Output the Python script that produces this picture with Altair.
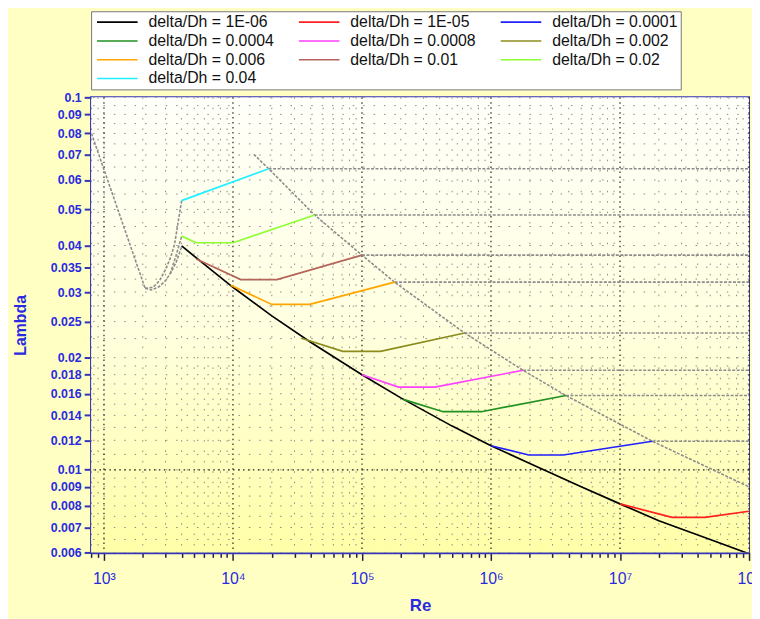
import altair as alt
import pandas as pd

# ---------------- data ----------------
series_names = ["delta/Dh = 1E-06", "delta/Dh = 1E-05", "delta/Dh = 0.0001",
                "delta/Dh = 0.0004", "delta/Dh = 0.0008", "delta/Dh = 0.002",
                "delta/Dh = 0.006", "delta/Dh = 0.01", "delta/Dh = 0.02",
                "delta/Dh = 0.04"]
series_colors = ["#000000", "#FF2020", "#2020FF", "#209020", "#FF40FF",
                 "#8C8C1E", "#FFA500", "#B4645A", "#8CFF30", "#20F0FF"]

re_1e06 = [4000, 6000, 1e4, 2e4, 4e4, 1e5, 2e5, 5e5, 1e6, 2e6, 5e6, 1e7, 2e7, 5e7, 1e8]
lam_1e06 = [0.0399, 0.0356, 0.0309, 0.0259, 0.0220, 0.0180, 0.0156, 0.0131, 0.0116,
            0.0104, 0.0090, 0.0081, 0.0073, 0.0065, 0.00595]
re_1e05 = [1e7, 2.53e7, 4.55e7, 1e8]
lam_1e05 = [0.0081, 0.00745, 0.00745, 0.00774]
re_1e04 = [1e6, 1.96e6, 3.63e6, 1.78e7]
lam_1e04 = [0.0116, 0.01096, 0.01096, 0.01193]
re_4e04 = [2.09e5, 4.25e5, 8.4e5, 3.81e6]
lam_4e04 = [0.01545, 0.01432, 0.01432, 0.01583]
re_8e04 = [1.0e5, 1.92e5, 3.67e5, 1.77e6]
lam_8e04 = [0.0180, 0.01667, 0.01667, 0.0185]
re_2e03 = [3.4e4, 7.1e4, 1.39e5, 6.24e5]
lam_2e03 = [0.02255, 0.0208, 0.0208, 0.0233]
re_6e03 = [9.6e3, 2.0e4, 3.94e4, 1.79e5]
lam_6e03 = [0.0313, 0.0278, 0.0278, 0.0319]
re_1e02 = [5.2e3, 1.15e4, 2.19e4, 1e5]
lam_1e02 = [0.0368, 0.0324, 0.0324, 0.0377]
re_2e02 = [4000, 5180, 1e4, 4.3e4]
lam_2e02 = [0.0424, 0.0407, 0.0407, 0.0483]
re_4e02 = [4000, 1.89e4]
lam_4e02 = [0.0528, 0.0643]

# grey dashed helper curves
re_laminar = [800, 2085]
lam_laminar = [0.080, 0.0307]
re_trans_a = [2085, 2400, 2700, 3000, 3300, 3530, 3750, 4000]
lam_trans_a = [0.0307, 0.0309, 0.0322, 0.0345, 0.0373, 0.0404, 0.0460, 0.0528]
re_trans_b = [2085, 2345, 2670, 3000, 3260, 3620, 4000]
lam_trans_b = [0.0307, 0.0304, 0.0310, 0.0322, 0.0336, 0.0360, 0.0397]
re_trans_c = [3260, 3620, 4000]
lam_trans_c = [0.0336, 0.0376, 0.0424]
re_limit = [1.45e4, 1.89e4, 4.3e4, 1e5, 1.79e5, 6.24e5, 1.77e6, 3.81e6, 1.78e7, 1e8]
lam_limit = [0.0703, 0.0643, 0.0483, 0.0377, 0.0319, 0.0233, 0.0185, 0.01583, 0.01193, 0.0090]
re_rough_start = [1.78e7, 3.81e6, 1.77e6, 6.24e5, 1.79e5, 1e5, 4.3e4, 1.89e4]
lam_rough = [0.01193, 0.01583, 0.0185, 0.0233, 0.0319, 0.0377, 0.0483, 0.0643]
re_rough_end = 1e8

# axis ticks / grid
x_major = [1e3, 1e4, 1e5, 1e6, 1e7, 1e8]
x_minor = [800, 900] + [m * d for d in [1e3, 1e4, 1e5, 1e6, 1e7] for m in range(2, 10)]
y_labels = [0.1, 0.09, 0.08, 0.07, 0.06, 0.05, 0.04, 0.035, 0.03, 0.025, 0.02,
            0.018, 0.016, 0.014, 0.012, 0.01, 0.009, 0.008, 0.007, 0.006]
y_mid = [0.095, 0.085, 0.075, 0.065, 0.055, 0.045, 0.0375, 0.0325, 0.0275, 0.0225,
         0.019, 0.017, 0.015, 0.013, 0.011, 0.0095, 0.0085, 0.0075, 0.0065]
y_major = [0.01]

# ---------------- tables ----------------
curves = [(re_1e06, lam_1e06), (re_1e05, lam_1e05), (re_1e04, lam_1e04),
          (re_4e04, lam_4e04), (re_8e04, lam_8e04), (re_2e03, lam_2e03),
          (re_6e03, lam_6e03), (re_1e02, lam_1e02), (re_2e02, lam_2e02),
          (re_4e02, lam_4e02)]
rows = []
for name, (rs, ls) in zip(series_names, curves):
    for i, (r, l) in enumerate(zip(rs, ls)):
        rows.append({"Re": r, "lam": l, "series": name, "i": i})
df = pd.DataFrame(rows)

grey = []
for g, (rs, ls) in {"lam": (re_laminar, lam_laminar), "ta": (re_trans_a, lam_trans_a),
                    "tb": (re_trans_b, lam_trans_b), "tc": (re_trans_c, lam_trans_c),
                    "lim": (re_limit, lam_limit)}.items():
    for i, (r, l) in enumerate(zip(rs, ls)):
        grey.append({"Re": r, "lam": l, "grp": g, "i": i})
for k, (r0, l) in enumerate(zip(re_rough_start, lam_rough)):
    grey.append({"Re": r0, "lam": l, "grp": f"h{k}", "i": 0})
    grey.append({"Re": re_rough_end, "lam": l, "grp": f"h{k}", "i": 1})
gdf = pd.DataFrame(grey)

BLUE = "#2A2AE0"
DARKBLUE = "#3434B8"
FONT = "Liberation Sans"

xs = alt.Scale(type="log", domain=[795, 1e8], nice=False)
ys = alt.Scale(type="log", domain=[0.006, 0.1], nice=False)

sup = {1e3: "10³", 1e4: "10⁴", 1e5: "10⁵", 1e6: "10⁶", 1e7: "10⁷", 1e8: "10⁸"}
lab_expr = "".join(f"datum.value=={int(k)}?'{v}':" for k, v in sup.items()) + "''"
major_test = " || ".join(f"datum.value=={int(k)}" for k in x_major)

xaxis = alt.Axis(values=sorted(x_major + x_minor), labelExpr=lab_expr, grid=False,
                 title="Re", titleColor=BLUE, titleFont=FONT, titleFontSize=17,
                 titleFontWeight="bold", titlePadding=12,
                 labelColor=BLUE, labelFont=FONT, labelFontSize=16, labelPadding=10,
                 labelFlush=False, labelOverlap=False,
                 tickColor="#202040", tickWidth=1.5,
                 tickSize={"condition": {"test": major_test, "value": 8}, "value": 5},
                 domainColor=DARKBLUE, domainWidth=2.5)
yaxis = alt.Axis(values=y_labels, format=".3~g", grid=False,
                 title="Lambda", titleColor=BLUE, titleFont=FONT, titleFontSize=16,
                 titleFontWeight="bold", titlePadding=22,
                 labelColor=BLUE, labelFont=FONT, labelFontSize=12.5, labelFontWeight="bold",
                 labelPadding=3, labelFlush=False, labelOverlap=False,
                 tickColor=DARKBLUE, tickWidth=2, tickSize=7,
                 domainColor=DARKBLUE, domainWidth=2.5)

X = alt.X("Re:Q", scale=xs, axis=xaxis)
Y = alt.Y("lam:Q", scale=ys, axis=yaxis)

bg = alt.Chart(alt.Data(values=[{"a": 1}])).mark_rect(
    fill=alt.Gradient(gradient="linear",
                      stops=[alt.GradientStop(color="#FFFFFA", offset=0),
                             alt.GradientStop(color="#FFFFE0", offset=0.5),
                             alt.GradientStop(color="#FFFFA8", offset=1)],
                      x1=0, x2=0, y1=0, y2=1)
).encode(x=alt.value(0), x2=alt.value(665), y=alt.value(0), y2=alt.value(460))

gx_minor = alt.Chart(pd.DataFrame({"Re": x_minor})).mark_rule(
    color="#8A8A8A", strokeDash=[1.5, 9], strokeWidth=1).encode(x=X)
gx_major = alt.Chart(pd.DataFrame({"Re": x_major})).mark_rule(
    color="#202020", strokeDash=[1.5, 3.5], strokeWidth=1.2).encode(x=X)
gy_minor = alt.Chart(pd.DataFrame({"lam": y_labels + y_mid})).mark_rule(
    color="#8A8A8A", strokeDash=[1.5, 9], strokeWidth=1).encode(y=Y)
gy_major = alt.Chart(pd.DataFrame({"lam": y_major})).mark_rule(
    color="#202020", strokeDash=[1.5, 3.5], strokeWidth=1.2).encode(y=Y)

grey_lines = alt.Chart(gdf).mark_line(
    color="#8C8C8C", strokeDash=[3, 1.5], strokeWidth=1.6, clip=True
).encode(x=X, y=Y, detail="grp:N", order="i:Q")

lines = alt.Chart(df).mark_line(strokeWidth=1.7, clip=True).encode(
    x=X, y=Y,
    color=alt.Color("series:N",
                    scale=alt.Scale(domain=series_names, range=series_colors),
                    legend=alt.Legend(
                        title=None, orient="none", legendX=0, legendY=-87,
                        direction="horizontal", columns=3, columnPadding=21, rowPadding=3,
                        symbolType="M-1,0H7.2", symbolSize=100, symbolStrokeWidth=1.6,
                        labelOffset=39, labelFont=FONT, labelFontSize=16,
                        labelColor="#111111", labelLimit=300,
                        fillColor="#FFFFFF", strokeColor="#777777", padding=3)),
    order="i:Q")

chart = alt.layer(bg, gx_minor, gy_minor, gx_major, gy_major, grey_lines, lines).properties(
    width=665, height=460,
    padding={"left": 84, "top": 87, "right": 3, "bottom": 64},
    autosize=alt.AutoSizeParams(type="none"),
).configure(background="#FFFFC4").configure_view(stroke=DARKBLUE, strokeWidth=2)

chart.save("out.html", embed_options={"renderer": "svg", "actions": False})
